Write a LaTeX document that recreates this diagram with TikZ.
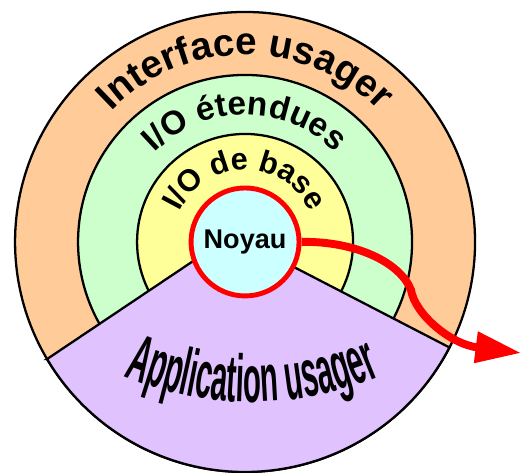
\documentclass[tikz,border=0pt]{standalone}
\usepackage{fontspec}
\setmainfont{Liberation Sans}
\newfontfamily\narrowfont[FakeStretch=0.44]{Liberation Sans}
\usetikzlibrary{arrows.meta, decorations.text, calc}
\definecolor{peach}{HTML}{FFCC99}
\definecolor{mint}{HTML}{CCFFCC}
\definecolor{lemon}{HTML}{FFFF99}
\definecolor{lavender}{HTML}{E0C2FF}
\definecolor{corecyan}{HTML}{CCFFFF}
\tikzset{
  ring/.style={draw=black, line width=1.3pt},
  core/.style={circle, draw=red, line width=2.8pt, fill=corecyan, minimum size=2.16cm,
    inner sep=0pt, font=\bfseries\fontsize{15.4}{18}\selectfont},
  rarr/.style={-{Triangle[length=26pt,width=17pt]}, draw=red, line width=4.5pt},
  arctxt/.style={decorate, decoration={text along path, text align=center, text={#1}}}
}

\begin{document}
\begin{tikzpicture}[scale=0.02]
\useasboundingbox (0,0) rectangle (521,472);
\coordinate (c) at (245,230);
% rings, outside in
\draw[ring, fill=peach] (c) circle[radius=230];
\draw[ring, fill=mint] (c) circle[radius=167];
\draw[ring, fill=lemon] (c) circle[radius=108];
% application slice
\draw[ring, fill=lavender] ($(c)+(210.6:230)$) -- (232,237) -- ($(c)+(-27.3:230)$)
  arc[start angle=-27.3, end angle=-149.4, radius=230] -- cycle;
\node[core] (noyau) at (c) {Noyau};
\coordinate (tip) at (521,119);
\draw[rarr] (noyau.east) .. controls (355,231) and (400,210) .. (411,182)
  .. controls (415,158) and (450,128) .. (tip);
% labels on the arcs
\path[arctxt={|\bfseries\fontsize{22}{24}\selectfont|Interface usager}]
  ($(c)+(160:187)$) arc[start angle=160, end angle=20, radius=187];
\path[arctxt={|\bfseries\fontsize{19}{22}\selectfont|I/O étendues}]
  ($(c)+(170:127)$) arc[start angle=170, end angle=10, radius=127];
\path[arctxt={|\bfseries\fontsize{17.5}{20}\selectfont|I/O de base}]
  ($(c)+(178:72)$) arc[start angle=178, end angle=2, radius=72];
\path[arctxt={|\narrowfont\bfseries\fontsize{38}{42}\selectfont|Application usager}]
  ($(252,400)+(235:330)$) arc[start angle=235, end angle=305, radius=330];
\end{tikzpicture}
\end{document}
